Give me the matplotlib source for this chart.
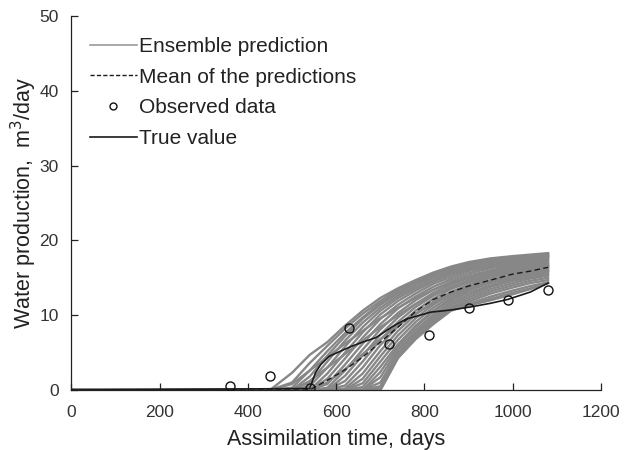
import matplotlib
matplotlib.use("Agg")
import matplotlib.pyplot as plt
from matplotlib.lines import Line2D

plt.rcParams['font.family'] = ['Liberation Sans', 'DejaVu Sans']

# time grid (days) for ensemble members
ens_days = [0, 450, 500, 540, 580, 620, 660, 700, 740, 780, 820, 860, 900, 950, 1000, 1040, 1080]

e01 = [0, 0, 2.3, 4.7, 6.4, 8.6, 10.6, 12.3, 13.6, 14.7, 15.7, 16.5, 17.1, 17.6, 17.9, 18.1, 18.3]
e02 = [0, 0, 1.0, 3.6, 5.9, 8.2, 10.2, 11.9, 13.4, 14.6, 15.6, 16.4, 17.0, 17.5, 17.8, 18.0, 18.2]
e03 = [0, 0, 0.3, 2.6, 5.2, 7.6, 9.7, 11.6, 13.1, 14.4, 15.4, 16.2, 16.8, 17.3, 17.7, 17.9, 18.1]
e04 = [0, 0, 0, 1.8, 4.6, 7.2, 9.5, 11.4, 12.9, 14.2, 15.2, 16.0, 16.6, 17.2, 17.6, 17.8, 18.0]
e05 = [0, 0, 0, 1.0, 3.8, 6.6, 9.0, 11.0, 12.6, 13.9, 15.0, 15.8, 16.5, 17.0, 17.4, 17.7, 17.9]
e06 = [0, 0, 0, 0.5, 3.0, 5.8, 8.4, 10.6, 12.3, 13.6, 14.7, 15.6, 16.3, 16.9, 17.3, 17.6, 17.8]
e07 = [0, 0, 0, 0, 2.2, 5.0, 7.7, 10.1, 11.9, 13.3, 14.5, 15.4, 16.1, 16.7, 17.1, 17.4, 17.7]
e08 = [0, 0, 0, 0, 1.5, 4.2, 7.0, 9.5, 11.4, 12.9, 14.2, 15.1, 15.9, 16.5, 17.0, 17.3, 17.5]
e09 = [0, 0, 0, 0, 0.8, 3.4, 6.2, 8.8, 10.9, 12.5, 13.8, 14.8, 15.6, 16.3, 16.8, 17.1, 17.4]
e10 = [0, 0, 0, 0, 0.3, 2.6, 5.4, 8.1, 10.3, 12.0, 13.4, 14.5, 15.3, 16.0, 16.6, 16.9, 17.2]
e11 = [0, 0, 0, 0, 0, 1.9, 4.6, 7.4, 9.7, 11.5, 13.0, 14.1, 15.0, 15.8, 16.4, 16.7, 17.0]
e12 = [0, 0, 0, 0, 0, 1.2, 3.8, 6.7, 9.1, 11.1, 12.6, 13.8, 14.7, 15.5, 16.1, 16.5, 16.8]
e13 = [0, 0, 0, 0, 0, 0.6, 3.0, 6.0, 8.5, 10.6, 12.2, 13.5, 14.4, 15.2, 15.9, 16.3, 16.6]
e14 = [0, 0, 0, 0, 0, 0.2, 2.2, 5.2, 7.9, 10.1, 11.8, 13.1, 14.1, 15.0, 15.7, 16.1, 16.5]
e15 = [0, 0, 0, 0, 0, 0, 1.5, 4.5, 7.3, 9.6, 11.4, 12.8, 13.8, 14.7, 15.4, 15.9, 16.3]
e16 = [0, 0, 0, 0, 0, 0, 0.9, 3.8, 6.7, 9.1, 11.0, 12.5, 13.5, 14.5, 15.2, 15.7, 16.1]
e17 = [0, 0, 0, 0, 0, 0, 0.4, 3.1, 6.1, 8.6, 10.6, 12.2, 13.3, 14.3, 15.0, 15.5, 15.9]
e18 = [0, 0, 0, 0, 0, 0, 0, 2.4, 5.8, 8.4, 10.5, 12.0, 13.0, 14.0, 14.8, 15.3, 15.7]
e19 = [0, 0, 0, 0, 0, 0, 0, 1.7, 5.4, 8.0, 10.1, 11.7, 12.7, 13.8, 14.6, 15.1, 15.5]
e20 = [0, 0, 0, 0, 0, 0, 0, 1.0, 5.0, 7.7, 9.8, 11.4, 12.4, 13.5, 14.3, 14.9, 15.3]
e21 = [0, 0, 0, 0, 0, 0, 0, 0.5, 4.8, 7.4, 9.5, 11.1, 12.1, 13.2, 14.0, 14.6, 15.0]
e22 = [0, 0, 0, 0, 0, 0, 0, 0.2, 4.6, 7.2, 9.3, 10.9, 11.8, 12.9, 13.7, 14.3, 14.7]
e23 = [0, 0, 0, 0, 0, 0, 0, 0, 4.4, 7.0, 9.1, 10.8, 11.5, 12.5, 13.3, 13.9, 14.4]
e24 = [0, 0, 0, 0, 0, 0, 0, 0, 4.3, 6.9, 9.0, 10.7, 11.3, 12.2, 13.0, 13.6, 14.3]
e25 = [0, 0, 0, 0, 0, 0, 0, 0, 4.3, 6.8, 8.8, 10.6, 11.3, 12.0, 12.8, 13.5, 14.3]
e26 = [0, 0, 0.8, 2.6, 4.4, 6.2, 7.9, 9.6, 11.0, 12.3, 13.4, 14.3, 15.0, 15.7, 16.2, 16.5, 16.8]
e27 = [0, 0, 0, 1.2, 3.0, 4.8, 6.6, 8.4, 10.0, 11.5, 12.7, 13.7, 14.5, 15.3, 15.8, 16.2, 16.5]
e28 = [0, 0, 0, 0, 1.0, 2.8, 4.8, 6.8, 8.6, 10.2, 11.6, 12.8, 13.7, 14.6, 15.2, 15.6, 16.0]

ensemble = [e01, e02, e03, e04, e05, e06, e07, e08, e09, e10, e11, e12, e13, e14,
            e15, e16, e17, e18, e19, e20, e21, e22, e23, e24, e25, e26, e27, e28]

# mean of predictions
mean_days = [0, 540, 580, 620, 660, 700, 740, 780, 820, 860, 900, 950, 1000, 1040, 1080]
mean_vals = [0, 0, 1.3, 2.7, 4.4, 6.4, 8.4, 10.5, 12.1, 13.1, 13.9, 14.7, 15.5, 15.9, 16.4]

# true value
true_days = [0, 540, 553, 565, 584, 610, 633, 660, 690, 728, 759, 790, 813, 860, 904, 950, 988, 1040, 1080]
true_vals = [0, 0.2, 2.3, 3.4, 4.5, 5.2, 5.8, 6.4, 7.0, 8.5, 9.5, 10.0, 10.4, 10.7, 11.1, 11.6, 12.1, 13.1, 14.3]

# observed data
obs_days = [360, 450, 540, 630, 720, 810, 900, 990, 1080]
obs_vals = [0.6, 1.9, 0.25, 8.25, 6.1, 7.3, 10.9, 12.1, 13.4]

fig = plt.figure(figsize=(6.3, 4.5), dpi=100)
ax = fig.add_axes([0.1132, 0.1333, 0.8408, 0.8311])

for m in ensemble:
    ax.plot(ens_days, m, color='#878787', lw=1.7, zorder=1)
ax.plot(true_days, true_vals, color='#1a1a1a', lw=1.2, zorder=3)
ax.plot(mean_days, mean_vals, color='#1a1a1a', lw=1.0, ls=(0, (4, 2.4)), zorder=3)
ax.plot(obs_days, obs_vals, ls='none', marker='o', ms=6.5, mfc='none', mec='#111111', mew=1.0, zorder=4)

ax.set_xlim(0, 1200)
ax.set_ylim(0, 50)
ax.set_xticks([0, 200, 400, 600, 800, 1000, 1200])
ax.set_yticks([0, 10, 20, 30, 40, 50])
for s in ['top', 'right']:
    ax.spines[s].set_visible(False)
for s in ['left', 'bottom']:
    ax.spines[s].set_linewidth(0.9)
    ax.spines[s].set_color('#222222')
ax.tick_params(direction='in', length=5, width=0.9, colors='#222222', labelsize=12.5, labelcolor='#333333')
ax.tick_params(axis='x', pad=11)
ax.tick_params(axis='y', pad=9)

ax.set_xlabel('Assimilation time, days', fontsize=15.5, color='#222222', labelpad=6)
ax.set_ylabel('Water production,  m$^3$/day', fontsize=15.5, color='#222222', labelpad=0)

handles = [
    Line2D([], [], color='#999999', lw=1.2),
    Line2D([], [], color='#1a1a1a', lw=1.0, ls=(0, (3, 1.6))),
    Line2D([], [], ls='none', marker='o', ms=5, mfc='none', mec='#111111', mew=1.0),
    Line2D([], [], color='#1a1a1a', lw=1.2),
]
labels = ['Ensemble prediction', 'Mean of the predictions', 'Observed data', 'True value']
leg = fig.legend(handles, labels, loc='upper left', bbox_to_anchor=(0.143, 0.918),
                 frameon=False, fontsize=15, handlelength=2.24, handletextpad=0.13,
                 labelspacing=0.56, borderpad=0, borderaxespad=0)
for t in leg.get_texts():
    t.set_color('#222222')

fig.savefig('out.png', dpi=100)
